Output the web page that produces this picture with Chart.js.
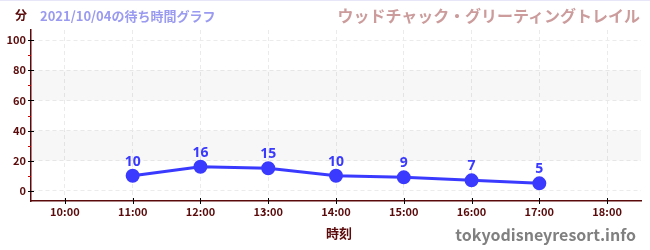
<!DOCTYPE html>
<html>
<head>
<meta charset="utf-8">
<script src="https://cdn.jsdelivr.net/npm/chart.js@4/dist/chart.umd.min.js"></script>
<style>
    body { margin: 0; background: #fff; }
    #wrap { position: relative; width: 650px; height: 250px; border-top: 1px solid #e6e6f8; box-sizing: border-box; }
    canvas { position: absolute; left: 0; top: 0; }
    .txt { position: absolute; font-family: "Noto Sans CJK JP", "Noto Sans", sans-serif; font-weight: bold; white-space: nowrap; line-height: 1; }
    #unit { left: 15px; top: 8px; font-size: 12px; color: #5a0a0a; }
    #date { left: 40px; top: 8px; font-size: 13px; color: #9a9af0; }
    #name { right: 10px; top: 6px; font-size: 16px; color: #cc9c9c; }
    #xtitle { left: 326px; top: 225px; font-size: 13px; color: #5a0a0a; }
    #mark { right: 14px; top: 225px; font-size: 16px; color: #808080; }
</style>
</head>
<body>
<div id="wrap">
    <canvas id="waitChart" width="650" height="249"></canvas>
    <div class="txt" id="unit">分</div>
    <div class="txt" id="date">2021/10/04の待ち時間グラフ</div>
    <div class="txt" id="name">ウッドチャック・グリーティングトレイル</div>
    <div class="txt" id="xtitle">時刻</div>
    <div class="txt" id="mark">tokyodisneyresort.info</div>
</div>
<script>
// Data
const hours = [11, 12, 13, 14, 15, 16, 17];
const waitMinutes = [10, 16, 15, 10, 9, 7, 5];
const xTickHours = [10, 11, 12, 13, 14, 15, 16, 17, 18];
const yTicks = [0, 10, 20, 30, 40, 50, 60, 70, 80, 90, 100];
const bands = [[20, 40], [60, 80]];

const axisColor = '#5a0a0a';
const lineColor = '#3a3aff';
const gridColor = '#ebebeb';

// background bands + tick marks crossing the axes
const decorPlugin = {
    id: 'decor',
    beforeDatasetsDraw(chart) {
        const { ctx, chartArea, scales } = chart;
        ctx.save();
        ctx.fillStyle = 'rgba(0,0,0,0.03)';
        bands.forEach(b => {
            const top = scales.y.getPixelForValue(b[1]);
            const bot = scales.y.getPixelForValue(b[0]);
            ctx.fillRect(chartArea.left, top, chartArea.right - chartArea.left, bot - top);
        });
        ctx.restore();
    },
    afterDraw(chart) {
        const { ctx, chartArea, scales } = chart;
        ctx.save();
        ctx.lineWidth = 1;
        yTicks.forEach(v => {
            const y = Math.round(scales.y.getPixelForValue(v)) + 0.5;
            ctx.beginPath();
            if (v % 20 === 0) {
                ctx.strokeStyle = '#000';
                ctx.moveTo(chartArea.left - 3, y);
                ctx.lineTo(chartArea.left + 3, y);
            } else {
                ctx.strokeStyle = '#d00000';
                ctx.moveTo(chartArea.left - 3, y);
                ctx.lineTo(chartArea.left, y);
            }
            ctx.stroke();
        });
        ctx.strokeStyle = '#000';
        xTickHours.forEach(h => {
            const x = Math.round(scales.x.getPixelForValue(h)) + 0.5;
            ctx.beginPath();
            ctx.moveTo(x, chartArea.bottom - 3);
            ctx.lineTo(x, chartArea.bottom + 3);
            ctx.stroke();
        });
        ctx.restore();
    }
};

// value labels above points
const labelPlugin = {
    id: 'valueLabels',
    afterDatasetsDraw(chart) {
        const { ctx } = chart;
        const meta = chart.getDatasetMeta(0);
        ctx.save();
        ctx.fillStyle = lineColor;
        ctx.font = 'bold 14px "Noto Sans", sans-serif';
        ctx.textAlign = 'center';
        ctx.textBaseline = 'bottom';
        meta.data.forEach((pt, i) => {
            ctx.fillText(waitMinutes[i], pt.x, pt.y - 7);
        });
        ctx.restore();
    }
};

const ctx = document.getElementById('waitChart').getContext('2d');
new Chart(ctx, {
    type: 'line',
    data: {
        datasets: [{
            data: hours.map((h, i) => ({ x: h, y: waitMinutes[i] })),
            borderColor: lineColor,
            backgroundColor: lineColor,
            borderWidth: 3,
            pointRadius: 5.5,
            pointHoverRadius: 5.5,
            tension: 0
        }]
    },
    options: {
        responsive: false,
        animation: false,
        layout: { padding: { top: 29, right: 9, left: 0, bottom: 0 } },
        scales: {
            x: {
                type: 'linear',
                min: 9.5,
                max: 18.5,
                afterBuildTicks: (scale) => { scale.ticks = xTickHours.map(v => ({ value: v })); },
                afterFit: (scale) => { scale.height = 49; },
                grid: { color: gridColor, drawTicks: false, tickLength: 0 },
                border: { color: axisColor, width: 1.5, dash: [4, 3] },
                ticks: {
                    color: axisColor,
                    padding: 4,
                    font: { family: '"Noto Sans CJK JP", sans-serif', size: 11, weight: 'bold' },
                    callback: (v) => v + ':00',
                    maxRotation: 0
                }
            },
            y: {
                min: -6.7,
                max: 106.7,
                afterBuildTicks: (scale) => { scale.ticks = yTicks.map(v => ({ value: v })); },
                afterFit: (scale) => { scale.width = 31; },
                border: { color: axisColor, width: 1.5, dash: [4, 3] },
                grid: {
                    color: (c) => (c.tick && c.tick.value % 20 === 0) ? gridColor : 'rgba(0,0,0,0)',
                    drawTicks: false,
                    tickLength: 0
                },
                ticks: {
                    color: axisColor,
                    padding: 5,
                    font: { family: '"Noto Sans CJK JP", sans-serif', size: 11, weight: 'bold' },
                    callback: (v) => (v % 20 === 0 ? v : '')
                }
            }
        },
        plugins: {
            legend: { display: false },
            tooltip: { enabled: false }
        }
    },
    plugins: [decorPlugin, labelPlugin]
});
</script>
</body>
</html>
